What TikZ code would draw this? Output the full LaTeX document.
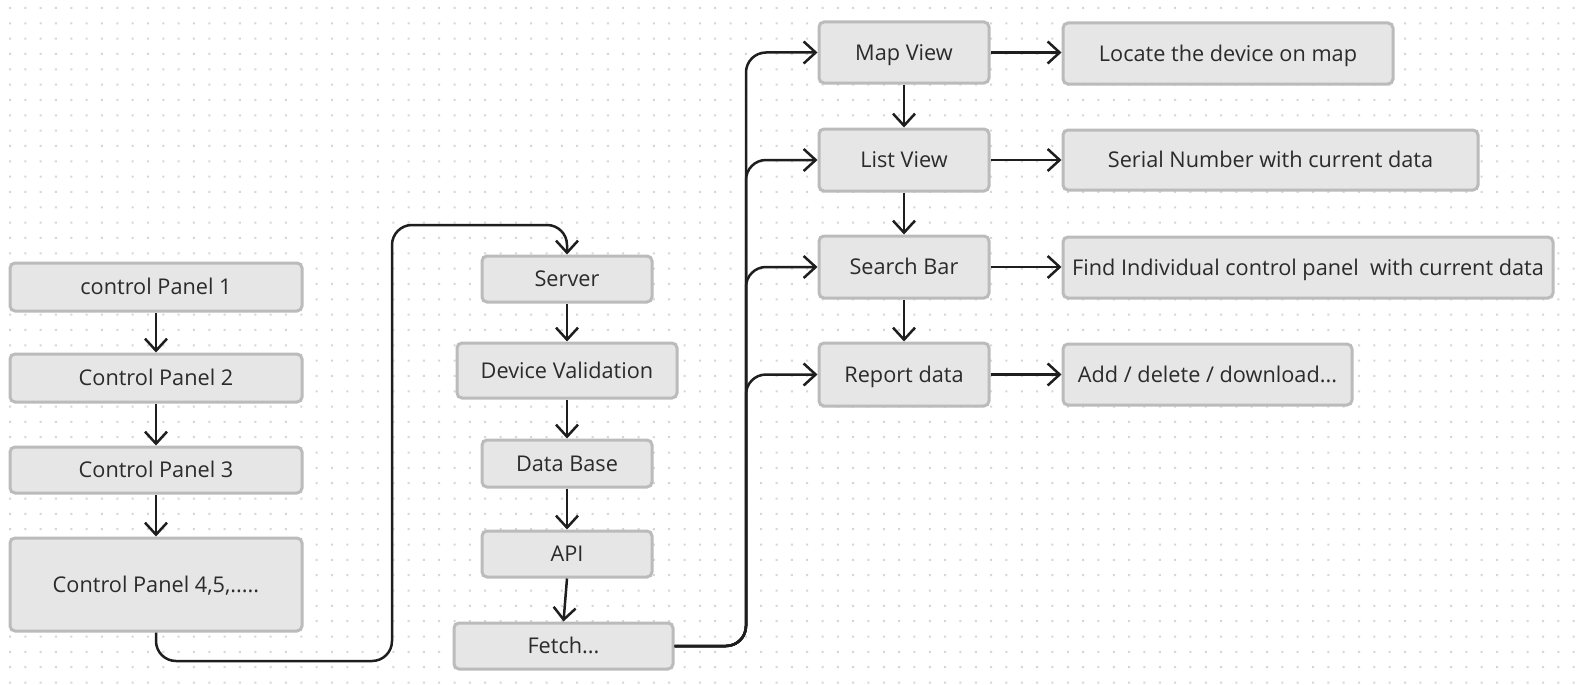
\documentclass[tikz,border=0pt]{standalone}
\usepackage{fontspec}
\setmainfont{Open Sans}
\usetikzlibrary{arrows.meta}
\definecolor{boxfill}{HTML}{E6E6E6}
\definecolor{boxline}{HTML}{BBBBBB}
\definecolor{txt}{HTML}{2B2B2B}
\definecolor{conn}{HTML}{1E1E1E}
\definecolor{dotc}{HTML}{D6D6D6}
\tikzset{
  box/.style={draw=boxline, fill=boxfill, line width=3pt, rounded corners=5pt,
    inner sep=0pt, text=txt, font=\fontsize{21.7}{26}\selectfont,
    text height=15.5pt, text depth=0pt},
  link/.style={draw=conn, line width=2.5pt, -{Straight Barb[length=12pt,width=22pt,line width=2.5pt]}},
}
\begin{document}
\begin{tikzpicture}[x=1pt,y=-1pt]
\useasboundingbox[fill=white] (0,0) rectangle (1582,685);
% dot grid
\foreach \j in {0,...,44} {
  \fill[dotc] foreach \i in {0,...,102} { (10+\i*15.33-1, 10+\j*15.33-1) rectangle ++(2,-2) };
}

% left column
\node[box, minimum width=292, minimum height=48] (cp1) at (156,287) {control Panel 1};
\node[box, minimum width=292, minimum height=48] (cp2) at (156,378) {Control Panel 2};
\node[box, minimum width=292, minimum height=46] (cp3) at (156,470) {Control Panel 3};
\node[box, minimum width=292, minimum height=93] (cp4) at (156,584.5) {Control Panel 4,5,.....};

% middle column
\node[box, minimum width=170, minimum height=46] (server) at (567,279) {Server};
\node[box, minimum width=220, minimum height=55] (devval) at (567,370.5) {Device Validation};
\node[box, minimum width=170, minimum height=47] (db) at (567,463.5) {Data Base};
\node[box, minimum width=170, minimum height=46] (api) at (567,554) {API};
\node[box, minimum width=219, minimum height=46] (fetch) at (563.5,646) {Fetch...};

% views
\node[box, minimum width=170, minimum height=61] (map) at (904,52.5) {Map View};
\node[box, minimum width=170, minimum height=62] (list) at (904,160) {List View};
\node[box, minimum width=170, minimum height=62] (search) at (904,267) {Search Bar};
\node[box, minimum width=170, minimum height=63] (report) at (904,374.5) {Report data};

% results
\node[box, minimum width=330, minimum height=61] (locate) at (1228,53.5) {Locate the device on map};
\node[box, minimum width=415, minimum height=60] (serial) at (1270.5,160) {Serial Number with current data};
\node[box, minimum width=490, minimum height=61] (find) at (1308,267.5) {Find Individual control panel\ \ with current data};
\node[box, minimum width=289, minimum height=61] (add) at (1207.5,374.5) {Add / delete / download...};

% connectors
\draw[link] (cp1) -- (cp2);
\draw[link] (cp2) -- (cp3);
\draw[link] (cp3) -- (cp4);
\draw[link, rounded corners=20pt] (cp4.south) -- (156,661) -- (392,661) -- (392,225) -- (567,225) -- (server.north);
\draw[link] (server) -- (devval);
\draw[link] (devval) -- (db);
\draw[link] (db) -- (api);
\draw[link] (api.south) -- (fetch.north);

\coordinate (trunkb) at (746,646);
\draw[link, rounded corners=20pt] (fetch.east) -- (trunkb) -- (746,52.5) -- (map.west);
\draw[link, rounded corners=20pt] (fetch.east) -- (trunkb) -- (746,160) -- (list.west);
\draw[link, rounded corners=20pt] (fetch.east) -- (trunkb) -- (746,267) -- (search.west);
\draw[link, rounded corners=20pt] (fetch.east) -- (trunkb) -- (746,374.5) -- (report.west);

\draw[link] (map) -- (list);
\draw[link] (list) -- (search);
\draw[link] (search) -- (report);

\draw[link] (map.east) -- (map.east -| locate.west);
\draw[link] (list.east) -- (list.east -| serial.west);
\draw[link] (search.east) -- (search.east -| find.west);
\draw[link] (report.east) -- (report.east -| add.west);
\end{tikzpicture}
\end{document}
